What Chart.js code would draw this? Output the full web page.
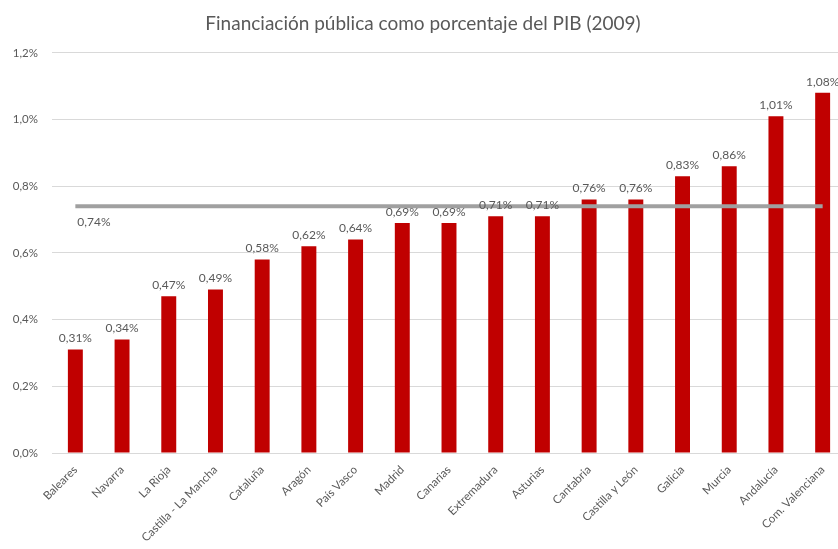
<!DOCTYPE html>
<html>
<head>
<meta charset="utf-8">
<script src="https://cdn.jsdelivr.net/npm/chart.js@4.4.0/dist/chart.umd.min.js"></script>
<style>
  html, body { margin: 0; padding: 0; background: #fff; overflow: hidden; }
  #wrap { width: 860px; height: 549px; }
</style>
</head>
<body>
<div id="wrap"><canvas id="chart"></canvas></div>
<script>
const regiones = ['Baleares', 'Navarra', 'La Rioja', 'Castilla - La Mancha', 'Cataluña', 'Aragón',
  'País Vasco', 'Madrid', 'Canarias', 'Extremadura', 'Asturias', 'Cantabria', 'Castilla y León',
  'Galicia', 'Murcia', 'Andalucía', 'Com. Valenciana'];
const financiacion = [0.31, 0.34, 0.47, 0.49, 0.58, 0.62, 0.64, 0.69, 0.69, 0.71, 0.71, 0.76, 0.76, 0.83, 0.86, 1.01, 1.08];
const media = [0.74, 0.74, 0.74, 0.74, 0.74, 0.74, 0.74, 0.74, 0.74, 0.74, 0.74, 0.74, 0.74, 0.74, 0.74, 0.74, 0.74];
const yTicks = [0, 0.2, 0.4, 0.6, 0.8, 1.0, 1.2];

const fontName = 'Lato';
const pct = (v, d) => v.toFixed(d).replace('.', ',') + '%';

// etiquetas encima de las barras y la de la media
const etiquetas = {
    id: 'etiquetas',
    afterDatasetsDraw: (chart) => {
        const ctx = chart.ctx;
        ctx.save();
        ctx.font = '12px ' + fontName;
        ctx.fillStyle = '#595959';
        ctx.textAlign = 'center';
        ctx.textBaseline = 'bottom';
        chart.getDatasetMeta(0).data.forEach((bar, i) => {
            ctx.fillText(pct(financiacion[i], 2), bar.x, bar.y - 5);
        });
        const p = chart.getDatasetMeta(1).data[0];
        ctx.textAlign = 'left';
        ctx.textBaseline = 'top';
        ctx.fillText(pct(media[0], 2), p.x + 2, p.y + 10);
        ctx.restore();
    }
};

Chart.register(...(Chart.registerables || []));
new Chart(document.getElementById('chart').getContext('2d'), {
    type: 'bar',
    data: {
        labels: regiones,
        datasets: [
            {
                type: 'bar',
                data: financiacion,
                backgroundColor: '#c00000',
                categoryPercentage: 1,
                barPercentage: 0.32,
                order: 2
            },
            {
                type: 'line',
                data: media,
                borderColor: '#a0a0a0',
                borderWidth: 4,
                pointRadius: 0,
                order: 1
            }
        ]
    },
    options: {
        responsive: true,
        maintainAspectRatio: false,
        animation: false,
        layout: {padding: {top: 0, right: 14, left: 0, bottom: 0}},
        plugins: {
            legend: {display: false},
            tooltip: {enabled: false},
            title: {
                display: true,
                text: 'Financiación pública como porcentaje del PIB (2009)',
                color: '#595959',
                font: {family: fontName, size: 19, weight: 'normal'},
                padding: {top: 12, bottom: 18}
            }
        },
        scales: {
            x: {
                grid: {display: false},
                border: {color: '#d9d9d9'},
                ticks: {
                    color: '#595959',
                    font: {family: fontName, size: 11.5},
                    maxRotation: 45,
                    minRotation: 45,
                    autoSkip: false,
                    padding: 2
                },
                afterFit: (s) => { s.height = 96; }
            },
            y: {
                min: 0,
                max: 1.2,
                afterBuildTicks: (s) => { s.ticks = yTicks.map(v => ({value: v})); },
                grid: {color: '#d9d9d9', drawTicks: false},
                border: {display: false},
                ticks: {
                    color: '#595959',
                    font: {family: fontName, size: 11.5},
                    padding: 14,
                    callback: (v) => pct(v, 1)
                },
                afterFit: (s) => { s.width = 52; }
            }
        }
    },
    plugins: [etiquetas]
});
</script>
</body>
</html>
